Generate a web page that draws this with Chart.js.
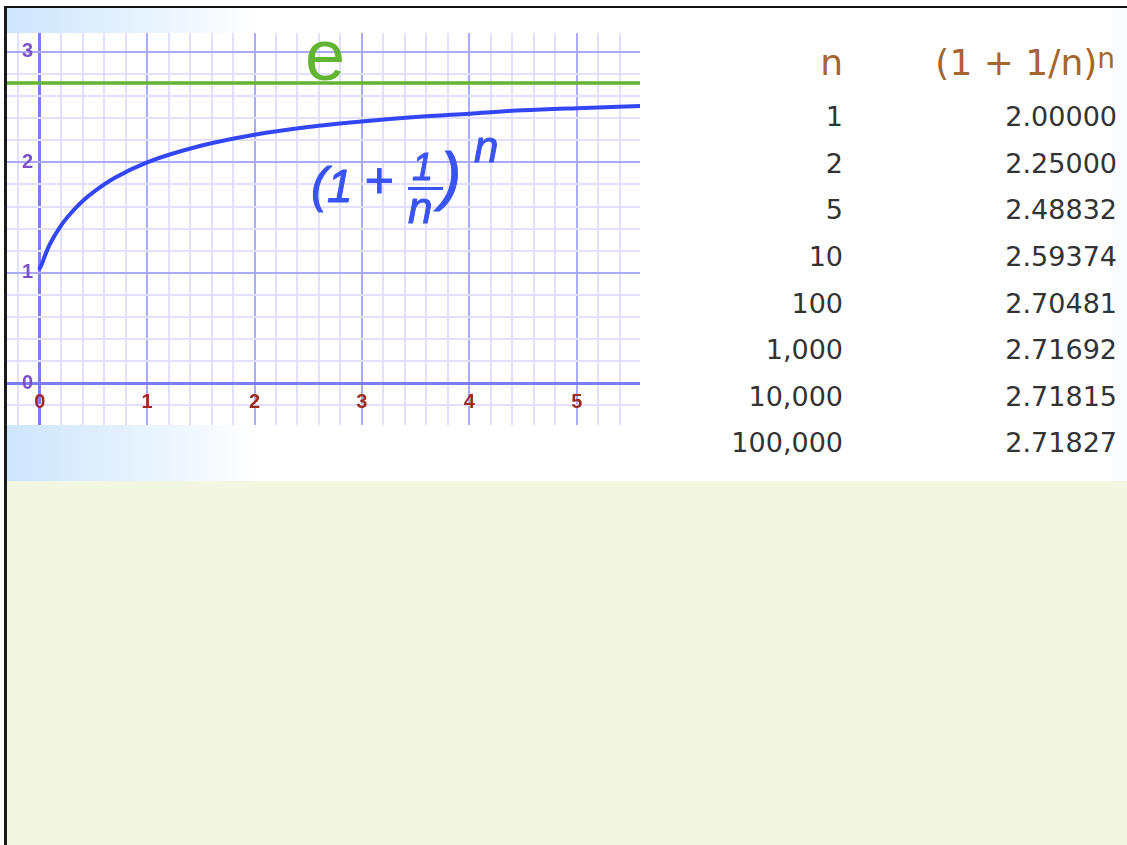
<!DOCTYPE html>
<html>
<head>
<meta charset="utf-8">
<title>(1 + 1/n)^n</title>
<script src="https://cdn.jsdelivr.net/npm/chart.js@4.4.1/dist/chart.umd.min.js"></script>
<style>
  html, body { margin: 0; padding: 0; }
  body { width: 1127px; height: 845px; position: relative; overflow: hidden; background: #fff; }
  .abs { position: absolute; }
  #top-rule  { left: 4px; top: 6px; right: 0; height: 2px; background: #111; }
  #left-rule { left: 4px; top: 6px; width: 3px; bottom: 0; background: #1a1a1a; }
  #panel     { left: 7px; top: 8px; right: 0; height: 473px; background: #fff; }
  #fade      { left: 7px; top: 8px; width: 250px; height: 473px;
               background: linear-gradient(to right, #cfe6fd 0%, #e2f0fd 45%, #ffffff 100%); }
  #edge      { left: 1112px; top: 8px; width: 15px; height: 473px; background: #f9fbff; }
  #lower     { left: 7px; top: 481px; right: 0; bottom: 0; background: #f3f6e1; }
  #plot-box  { left: 7px; top: 33px; width: 633px; height: 392px; background: #fff; }
  #plot      { display: block; }

  table#values {
    position: absolute; left: 692px; top: 37.5px;
    border-collapse: collapse; table-layout: fixed;
    font-family: "DejaVu Sans", Verdana, sans-serif;
  }
  #values col.n { width: 151px; }
  #values col.v { width: 274px; }
  #values th, #values td { padding: 0; text-align: right; white-space: nowrap; }
  #values th {
    font-weight: normal; color: #a5662c; font-size: 36px;
    height: 50px; line-height: 50px; padding-bottom: 6.8px; vertical-align: top;
  }
  #values th.expr { padding-right: 2px; }
  #values th sup { font-size: 28px; vertical-align: baseline; position: relative; top: -7px; line-height: 0; }
  #values td {
    color: #333; font-size: 27px; height: 46.6px; line-height: 46.6px; vertical-align: top;
  }
</style>
</head>
<body>
<div class="abs" id="panel"></div>
<div class="abs" id="fade"></div>
<div class="abs" id="edge"></div>
<div class="abs" id="lower"></div>
<div class="abs" id="top-rule"></div>
<div class="abs" id="left-rule"></div>

<div class="abs" id="plot-box"><canvas id="plot" width="633" height="392"></canvas></div>

<table id="values">
  <colgroup><col class="n"><col class="v"></colgroup>
  <thead><tr><th>n</th><th class="expr">(1 + 1/n)<sup>n</sup></th></tr></thead>
  <tbody id="rows"></tbody>
</table>

<script>
// ---- data -------------------------------------------------------------
// sampled points of the curve y = (1 + 1/n)^n
const curveN     = [0, 0.02, 0.05, 0.1, 0.2, 0.3, 0.4, 0.5, 0.7, 1, 1.5, 2, 2.5, 3, 3.5, 4, 4.5, 5, 5.59];
const curveValue = [1.04, 1.08, 1.16, 1.27, 1.43, 1.55, 1.65, 1.73, 1.86, 2.00, 2.15, 2.25, 2.32, 2.37, 2.41, 2.44, 2.47, 2.49, 2.51];

// the limit e, drawn as a horizontal line
const E_VALUE = 2.71828;

// axis tick labels
const xTickLabels = ['0', '1', '2', '3', '4', '5'];
const yTickLabels = ['0', '1', '2', '3'];

// table of n and (1 + 1/n)^n
const tableN     = [1, 2, 5, 10, 100, 1000, 10000, 100000];
const tableValue = [2.00000, 2.25000, 2.48832, 2.59374, 2.70481, 2.71692, 2.71815, 2.71827];

// ---- visible window of the graph paper ----------------------------------
const X_MIN = -0.3045, X_MAX = 5.589;
const Y_MIN = -0.377,  Y_MAX = 3.17;
const Y_LABEL_X = -0.062;           // y labels end just left of the vertical axis

// ---- table ------------------------------------------------------------
const rowsEl = document.getElementById('rows');
tableN.forEach((n, i) => {
  const tr = document.createElement('tr');
  const a = document.createElement('td');
  const b = document.createElement('td');
  a.textContent = n.toLocaleString('en-US');
  b.textContent = tableValue[i].toFixed(5);
  tr.appendChild(a); tr.appendChild(b);
  rowsEl.appendChild(tr);
});

// ---- graph paper styling -------------------------------------------------
const isWhole = v => Math.abs(v - Math.round(v)) < 1e-6;
const gridColor = v => Math.abs(v) < 1e-6 ? '#7c7cf6' : (isWhole(v) ? '#aaaaff' : '#e1e1ff');
const gridWidth = v => Math.abs(v) < 1e-6 ? 3 : 2;
const labelFor = list => v => {
  const t = list.find(s => Math.abs(Number(s) - v) < 1e-6);
  return t === undefined ? '' : t;
};
// the axes cross inside the plot, so they must not shrink it
const noPadding = s => { s.paddingTop = 0; s.paddingBottom = 0; s.paddingLeft = 0; s.paddingRight = 0; };

const TICK_FONT_FAMILY = '"Liberation Sans", Arial, sans-serif';
Chart.defaults.font.family = TICK_FONT_FAMILY;
Chart.defaults.font.weight = 'bold';

// text placed on the graph: "e" on the limit line and the formula under the curve
const formulaLabels = {
  id: 'formulaLabels',
  afterDatasetsDraw(chart) {
    const { ctx, scales: { x, y } } = chart;
    ctx.save();
    ctx.textBaseline = 'alphabetic';
    ctx.textAlign = 'left';

    // e
    const ex = x.getPixelForValue(2.47), ey = y.getPixelForValue(E_VALUE) - 3;
    ctx.fillStyle = '#62b530';
    ctx.font = '72px "Liberation Sans", Arial, sans-serif';
    ctx.fillText('e', ex, ey);

    // (1 + 1/n)^n
    const fx = x.getPixelForValue(2.526), fy = y.getPixelForValue(1.641);
    const blue = '#3a54f4';
    ctx.fillStyle = blue;
    ctx.strokeStyle = blue;
    ctx.lineWidth = 1;
    ctx.lineJoin = 'round';
    const put = (txt, size, dx, dy) => {
      ctx.font = 'italic ' + size + 'px "Liberation Sans", Arial, sans-serif';
      ctx.fillText(txt, fx + dx, fy + dy);
      ctx.strokeText(txt, fx + dx, fy + dy);
    };
    put('(', 50, 0, 0);
    put('1', 46, 16, 0);
    put('+', 50, 53, -4.5);
    put('1', 38, 101, -22);
    put('n', 44, 97, 21);
    put(')', 64, 129, -3.5);
    put('n', 44, 163, -40);
    ctx.lineWidth = 3;
    ctx.beginPath();
    ctx.moveTo(fx + 97, fy - 13.5);
    ctx.lineTo(fx + 132, fy - 13.5);
    ctx.stroke();
    ctx.restore();
  }
};

new Chart(document.getElementById('plot'), {
  type: 'line',
  data: {
    datasets: [
      {
        label: 'e',
        data: [{ x: X_MIN, y: E_VALUE }, { x: X_MAX, y: E_VALUE }],
        borderColor: '#62b530',
        borderWidth: 3.5,
        pointRadius: 0,
        fill: false
      },
      {
        label: '(1 + 1/n)^n',
        data: curveN.map((n, i) => ({ x: n, y: curveValue[i] })),
        borderColor: '#3346f5',
        borderWidth: 4,
        borderCapStyle: 'round',
        cubicInterpolationMode: 'monotone',
        pointRadius: 0,
        fill: false
      }
    ]
  },
  options: {
    responsive: false,
    animation: false,
    devicePixelRatio: 1,
    layout: { padding: 0 },
    events: [],
    plugins: { legend: { display: false }, tooltip: { enabled: false } },
    scales: {
      x: {
        type: 'linear',
        min: X_MIN, max: X_MAX,
        position: { y: 0 },
        afterFit: noPadding,
        border: { display: false },
        grid: {
          drawTicks: false,
          color: c => gridColor(c.tick.value),
          lineWidth: c => gridWidth(c.tick.value)
        },
        ticks: {
          stepSize: 0.2, maxTicksLimit: 40, includeBounds: false, autoSkip: false,
          maxRotation: 0, padding: 7, z: 1,
          color: '#9b2c1c',
          font: { family: TICK_FONT_FAMILY, size: 20, weight: 'bold' },
          callback: labelFor(xTickLabels)
        }
      },
      y: {
        type: 'linear',
        min: Y_MIN, max: Y_MAX,
        position: { x: Y_LABEL_X },
        afterFit: noPadding,
        border: { display: false },
        grid: {
          drawTicks: false,
          color: c => gridColor(c.tick.value),
          lineWidth: c => gridWidth(c.tick.value)
        },
        ticks: {
          stepSize: 0.2, maxTicksLimit: 30, includeBounds: false, autoSkip: false,
          z: 1,
          color: '#7b52c8',
          font: { family: TICK_FONT_FAMILY, size: 20, weight: 'bold' },
          callback: labelFor(yTickLabels)
        }
      }
    }
  },
  plugins: [formulaLabels]
});
</script>
</body>
</html>
